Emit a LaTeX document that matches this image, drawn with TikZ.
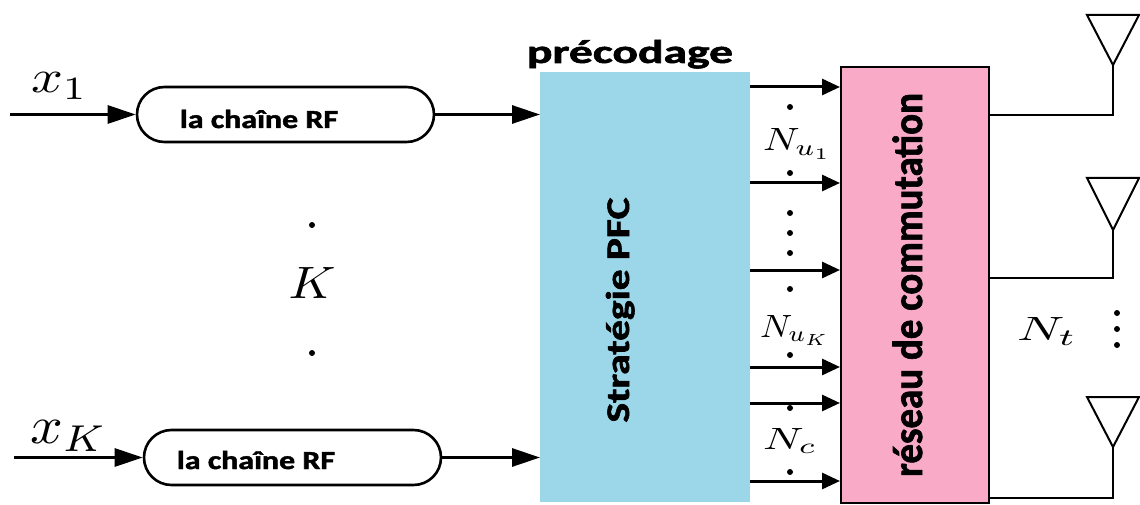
\documentclass[tikz,border=0pt]{standalone}
\usepackage{fontspec}
\usepackage{graphicx}
\usetikzlibrary{arrows.meta,shapes.misc}
\newfontfamily\labfont{Carlito}[BoldFeatures={FakeBold=1.6}]
\definecolor{pfcblue}{RGB}{155,215,232}
\definecolor{pinkfill}{RGB}{249,170,198}
\newcommand{\wtxt}[3]{\resizebox{#1}{\height}{\fontsize{#2}{#2}\selectfont #3}}
\newcommand{\mtxt}[3]{\resizebox{#1}{#2}{#3}}
\begin{document}
\begin{tikzpicture}[x=1pt,y=-1pt,
  sig/.style={line width=3pt,-{Triangle[length=28pt,width=18pt]}},
  bus/.style={line width=3pt,-{Triangle[length=18pt,width=16pt]}},
  rfbox/.style={draw,line width=2.6pt,rounded rectangle,minimum width=297pt,minimum height=55pt,inner sep=0pt},
  lab/.style={inner sep=0pt,outer sep=0pt},
  dotn/.style={circle,fill,inner sep=0pt,minimum size=6pt},
  wire/.style={line width=2pt},
  ant/.style={line width=2pt,line join=miter},
]
\useasboundingbox (0,0) rectangle (1140,505);
\fill[white] (0,0) rectangle (1140,505);
% blocks
\node[fill=pfcblue,minimum width=210pt,minimum height=430pt,inner sep=0pt,anchor=north west] (pfc) at (540,72) {};
\node[draw,line width=2pt,fill=pinkfill,minimum width=148pt,minimum height=436pt,inner sep=0pt,anchor=north west] (sw) at (840,66) {};
\node[rfbox] (rf1) at (285.5,114.5) {};
\node[rfbox] (rfK) at (292.5,457.5) {};
% block texts
\node[lab,anchor=base west] (t1) at (180,128) {\labfont\bfseries\wtxt{158pt}{26}{la chaîne RF}};
\node[lab,anchor=base west] (tK) at (177,469) {\labfont\bfseries\wtxt{158pt}{26}{la chaîne RF}};
\node[lab,anchor=base] (prec) at (630,63) {\labfont\bfseries\wtxt{206pt}{33}{précodage}};
\node[lab,rotate=90,anchor=base] (strat) at (629,310) {\labfont\bfseries\wtxt{225pt}{33}{Stratégie PFC}};
\node[lab,rotate=90,anchor=base] (res) at (922,285) {\labfont\bfseries\wtxt{384pt}{42}{réseau de commutation}};
% inputs
\coordinate (in1) at (10,114.5);
\coordinate (inK) at (14,457.5);
\draw[sig] (in1) -- (rf1.west);
\draw[sig] (inK) -- (rfK.west);
\draw[sig] (rf1.east) -- (pfc.west |- rf1.east);
\draw[sig] (rfK.east) -- (pfc.west |- rfK.east);
\node[lab,anchor=base west] (x1) at (31,93) {\mtxt{57pt}{20pt}{$x_1$}};
\node[lab,anchor=base west] (xK) at (30,443) {\mtxt{77pt}{23pt}{$x_K$}};
\node[lab] (kk) at (312,283) {\mtxt{47pt}{31pt}{$K$}};
\node[dotn] (kd1) at (312,225) {};
\node[dotn] (kd2) at (312,353) {};
% bus arrows
\foreach \y [count=\i] in {87,183,270,367,403,481}{
  \path (0,\y) coordinate (r\i);
  \draw[bus] (pfc.east |- r\i) -- (sw.west |- r\i);
}
\foreach \y [count=\i] in {107,173,213,233,253,289,355,408,472}{
  \node[dotn] (bd\i) at (790,\y) {};
}
\node[lab,anchor=base west] (nu1) at (763,151) {\mtxt{69pt}{22pt}{$N_{u_1}$}};
\node[lab,anchor=base west] (nuK) at (760,337) {\mtxt{70pt}{22pt}{$N_{u_K}$}};
\node[lab,anchor=base west] (nc) at (763,449) {\mtxt{54pt}{21pt}{$N_c$}};
% antennas
\foreach \f/\a/\t [count=\i] in {115/65/15,278/230/178,498/447/397}{
  \path (0,\f) coordinate (f\i);
  \coordinate (a\i) at (1113,\a);
  \draw[wire] (sw.east |- f\i) -| (a\i);
  \draw[ant] (a\i) -- (1087,\t) -- (1139,\t) -- cycle;
}
\node[lab,anchor=base west] (nt) at (1017,340) {\mtxt{60pt}{23pt}{$N_t$}};
\node[dotn] (td1) at (1117,313) {};
\node[dotn] (td2) at (1117,329) {};
\node[dotn] (td3) at (1117,345) {};
\end{tikzpicture}
\end{document}
